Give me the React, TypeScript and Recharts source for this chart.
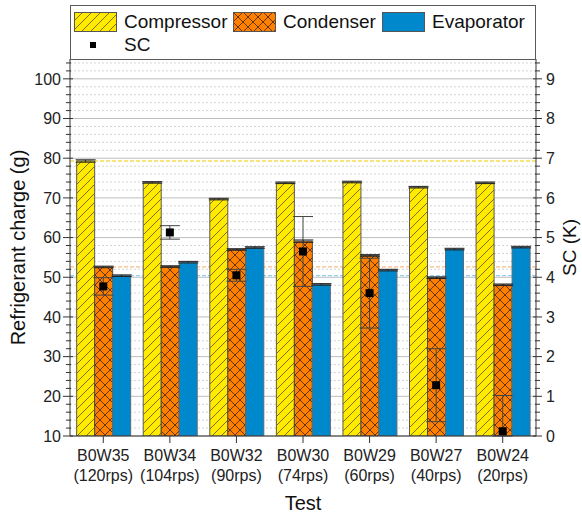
import React from 'react';
import {
  ComposedChart,
  Bar,
  Scatter,
  XAxis,
  YAxis,
  CartesianGrid,
  ErrorBar,
  Legend,
  Label,
} from 'recharts';

const FONT = "'Liberation Sans', Arial, Helvetica, sans-serif";

const tests = ['B0W35', 'B0W34', 'B0W32', 'B0W30', 'B0W29', 'B0W27', 'B0W24'];
const speeds = ['(120rps)', '(104rps)', '(90rps)', '(74rps)', '(60rps)', '(40rps)', '(20rps)'];

const compressor = [79.3, 73.9, 69.7, 73.8, 74.0, 72.7, 73.8];
const compressorErr = [0.3, 0.2, 0.2, 0.2, 0.2, 0.2, 0.2];
const condenser = [52.6, 52.7, 57.0, 59.1, 55.5, 49.9, 48.1];
const condenserErr = [0.2, 0.2, 0.2, 0.3, 0.2, 0.2, 0.2];
const evaporator = [50.4, 53.8, 57.5, 48.2, 51.8, 57.1, 57.6];
const evaporatorErr = [0.2, 0.2, 0.2, 0.2, 0.2, 0.2, 0.2];
const sc = [3.77, 5.13, 4.05, 4.65, 3.6, 1.28, 0.12];
const scErr: (number | number[])[] = [0.22, 0.17, 0.15, 0.88, 0.88, 0.92, [0.12, 0.9]];

const leftMajorTicks = [10, 20, 30, 40, 50, 60, 70, 80, 90, 100];
const rightMajorTicks = [0, 1, 2, 3, 4, 5, 6, 7, 8, 9];

// minor tick positions (every 2 g on the left, every 0.2 K on the right)
const leftAllTicks: number[] = [];
for (let i = 5; i <= 52; i++) leftAllTicks.push(i * 2);
const leftMinorOnly = leftAllTicks.filter((v) => !leftMajorTicks.includes(v));
const rightAllTicks: number[] = [];
for (let i = 0; i <= 47; i++) rightAllTicks.push(i / 5);

const data = tests.map((name, i) => ({
  name,
  compressor: compressor[i],
  compressorErr: compressorErr[i],
  condenser: condenser[i],
  condenserErr: condenserErr[i],
  evaporator: evaporator[i],
  evaporatorErr: evaporatorErr[i],
  sc: sc[i],
  scErr: scErr[i],
}));

const LeftTick = (props: any) => {
  const { x, y, payload } = props;
  const v = payload.value;
  const major = leftMajorTicks.includes(v);
  return (
    <g>
      <line x1={x - (major ? 7 : 4)} x2={x + (major ? 3 : 1)} y1={y} y2={y} stroke="#333" strokeWidth={1} />
      {major && (
        <text x={x - 9} y={y} dy="0.36em" textAnchor="end" fontSize={16} fill="#222" fontFamily={FONT}>
          {v}
        </text>
      )}
    </g>
  );
};

const RightTick = (props: any) => {
  const { x, y, payload } = props;
  const v = payload.value;
  const major = rightMajorTicks.includes(v);
  return (
    <g>
      <line x1={x - (major ? 3 : 1)} x2={x + (major ? 6 : 4)} y1={y} y2={y} stroke="#333" strokeWidth={1} />
      {major && (
        <text x={x + 10} y={y} dy="0.36em" textAnchor="start" fontSize={16} fill="#222" fontFamily={FONT}>
          {v}
        </text>
      )}
    </g>
  );
};

const XTick = (props: any) => {
  const { x, y, payload } = props;
  const idx = tests.indexOf(payload.value);
  return (
    <g>
      <text x={x} y={y} textAnchor="middle" fontSize={16} fill="#222" fontFamily={FONT}>
        <tspan x={x} dy={16}>{payload.value}</tspan>
        <tspan x={x} dy={20}>{speeds[idx]}</tspan>
      </text>
    </g>
  );
};

const Swatch = ({ fill }: { fill: string }) => (
  <svg width={43} height={20} style={{ display: 'block' }}>
    <rect x={0.5} y={0.5} width={42} height={19} fill={fill} stroke="#555" strokeWidth={1} />
  </svg>
);

const textStyle: React.CSSProperties = {
  position: 'absolute',
  lineHeight: '20px',
  whiteSpace: 'nowrap',
};

const LegendBox = () => (
  <div
    style={{
      position: 'relative',
      width: 466,
      height: 55,
      border: '1px solid #5a5a5a',
      boxSizing: 'border-box',
      background: '#fff',
      fontFamily: FONT,
      fontSize: 19,
      color: '#111',
    }}
  >
    <div style={{ position: 'absolute', left: 3, top: 6 }}>
      <Swatch fill="url(#hatchComp)" />
    </div>
    <div style={{ ...textStyle, left: 53, top: 6 }}>Compressor</div>
    <div style={{ position: 'absolute', left: 162, top: 6 }}>
      <Swatch fill="url(#hatchCond)" />
    </div>
    <div style={{ ...textStyle, left: 212, top: 6 }}>Condenser</div>
    <div style={{ position: 'absolute', left: 311, top: 6 }}>
      <Swatch fill="#0088cc" />
    </div>
    <div style={{ ...textStyle, left: 361, top: 6 }}>Evaporator</div>
    <div style={{ position: 'absolute', left: 19, top: 36, width: 6, height: 6, background: '#000' }} />
    <div style={{ ...textStyle, left: 53, top: 29 }}>SC</div>
  </div>
);

export default function App() {
  return (
    <div style={{ position: 'absolute', left: 0, top: 0, width: 582, height: 513, background: '#fff' }}>
      <svg width={0} height={0} style={{ position: 'absolute' }}>
        <defs>
          <pattern id="hatchComp" patternUnits="userSpaceOnUse" width={9} height={9}>
            <rect width={9} height={9} fill="#ffea00" />
            <path d="M-2,2 L2,-2 M0,9 L9,0 M7,11 L11,7" stroke="#5a5210" strokeWidth={0.8} />
          </pattern>
          <pattern id="hatchCond" patternUnits="userSpaceOnUse" width={10} height={10}>
            <rect width={10} height={10} fill="#ff8000" />
            <path d="M0,0 L10,10 M10,0 L0,10" stroke="#3a2308" strokeWidth={0.8} />
          </pattern>
        </defs>
      </svg>
      <ComposedChart
        width={582}
        height={513}
        data={data}
        margin={{ top: 59, right: 6, bottom: 0, left: 8 }}
        barCategoryGap="10%"
        barGap={0}
      >
        <CartesianGrid
          yAxisId="left"
          vertical={false}
          horizontalValues={leftMinorOnly}
          stroke="#d4d4d4"
          strokeDasharray="2 2"
        />
        <CartesianGrid yAxisId="left" vertical={false} horizontalValues={leftMajorTicks} stroke="#bdbdbd" />
        <CartesianGrid
          yAxisId="left"
          vertical={false}
          horizontalValues={[compressor[0]]}
          stroke="#f2c600"
          strokeDasharray="4 2"
        />
        <CartesianGrid
          yAxisId="left"
          vertical={false}
          horizontalValues={[condenser[0]]}
          stroke="#f8a860"
          strokeDasharray="4 2"
        />
        <CartesianGrid
          yAxisId="left"
          vertical={false}
          horizontalValues={[evaporator[0]]}
          stroke="#7cc4ea"
          strokeDasharray="4 2"
        />
        <XAxis
          dataKey="name"
          type="category"
          height={77}
          tick={<XTick />}
          tickSize={7}
          tickMargin={2}
          interval={0}
          axisLine={{ stroke: '#333' }}
          tickLine={{ stroke: '#333' }}
        >
          <Label
            value="Test"
            position="insideBottom"
            offset={3}
            fontSize={20}
            fill="#111"
            style={{ fontFamily: FONT, fontSize: 20 }}
          />
        </XAxis>
        <YAxis
          yAxisId="left"
          orientation="left"
          type="number"
          domain={[10, 105]}
          ticks={leftAllTicks}
          interval={0}
          allowDataOverflow
          width={62}
          tick={<LeftTick />}
          tickLine={false}
          tickSize={0}
          tickMargin={0}
          axisLine={{ stroke: '#333' }}
        >
          <Label
            value="Refrigerant charge (g)"
            angle={-90}
            position="insideLeft"
            offset={10}
            fontSize={20}
            fill="#111"
            style={{ textAnchor: 'middle', fontFamily: FONT, fontSize: 20 }}
          />
        </YAxis>
        <YAxis
          yAxisId="right"
          orientation="right"
          type="number"
          domain={[0, 9.5]}
          ticks={rightAllTicks}
          interval={0}
          allowDataOverflow
          width={40}
          tick={<RightTick />}
          tickLine={false}
          tickSize={0}
          tickMargin={0}
          axisLine={{ stroke: '#333' }}
        >
          <Label
            value="SC (K)"
            angle={-90}
            position="insideRight"
            offset={7}
            fontSize={19}
            fill="#111"
            style={{ textAnchor: 'middle', fontFamily: FONT, fontSize: 19 }}
          />
        </YAxis>
        <Legend
          verticalAlign="middle"
          align="center"
          layout="horizontal"
          content={() => <LegendBox />}
          wrapperStyle={{ left: 70, top: 5, width: 466, height: 55 }}
        />
        <Bar
          yAxisId="left"
          dataKey="compressor"
          fill="url(#hatchComp)"
          stroke="#5a5a5a"
          strokeWidth={1}
          isAnimationActive={false}
        >
          <ErrorBar dataKey="compressorErr" width={10} stroke="#222" strokeWidth={1} isAnimationActive={false} />
        </Bar>
        <Bar
          yAxisId="left"
          dataKey="condenser"
          fill="url(#hatchCond)"
          stroke="#4a4a4a"
          strokeWidth={1}
          isAnimationActive={false}
        >
          <ErrorBar dataKey="condenserErr" width={10} stroke="#222" strokeWidth={1} isAnimationActive={false} />
        </Bar>
        <Bar
          yAxisId="left"
          dataKey="evaporator"
          fill="#0088cc"
          stroke="#5a6a78"
          strokeWidth={1}
          isAnimationActive={false}
        >
          <ErrorBar dataKey="evaporatorErr" width={10} stroke="#222" strokeWidth={1} isAnimationActive={false} />
        </Bar>
        <Scatter yAxisId="right" dataKey="sc" fill="#000" shape="square" isAnimationActive={false}>
          <ErrorBar dataKey="scErr" direction="y" width={10} stroke="#444" strokeWidth={1} isAnimationActive={false} />
        </Scatter>
      </ComposedChart>
    </div>
  );
}
